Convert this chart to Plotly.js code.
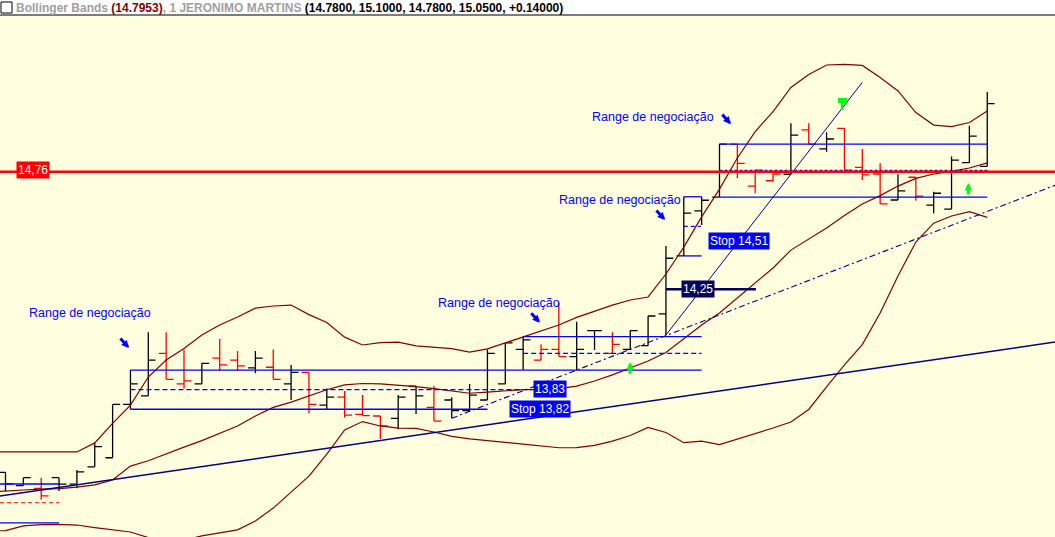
<!DOCTYPE html>
<html><head><meta charset="utf-8">
<script src="https://cdn.plot.ly/plotly-3.0.1.min.js"></script>
<style>html,body{margin:0;padding:0;background:#fff;overflow:hidden}#chart{width:1055px;height:537px}</style>
</head><body><div id="chart"></div>
<script>
// ---- data (prices) ----
const barOpen  = [13.461,13.404,13.392,13.438,13.410,13.485,13.524,13.754,13.791,13.974,13.842,13.842,13.953,13.945,13.911,13.914,13.842,13.892,13.751,13.785,13.711,13.704,13.694,13.833,13.741,13.773,13.727,13.773,13.842,13.991,13.945,13.991,13.960,14.072,13.974,13.991,14.007,14.144,14.394,14.588,14.647,14.876,14.695,14.718,14.746,14.937,14.855,14.944,14.776,14.747,14.635,14.733,14.613,14.596,14.796,14.780];
const barHigh  = [13.461,13.438,13.438,13.438,13.471,13.586,13.754,13.902,14.065,14.065,13.991,13.931,14.036,13.984,13.984,13.991,13.924,13.892,13.823,13.812,13.795,13.704,13.795,13.833,13.833,13.785,13.842,13.991,14.020,14.046,14.013,14.192,14.110,14.072,14.065,14.072,14.135,14.437,14.649,14.649,14.876,14.876,14.764,14.750,14.966,14.966,14.927,14.944,14.855,14.793,14.746,14.733,14.671,14.822,14.955,15.100];
const barLow   = [13.381,13.404,13.343,13.381,13.392,13.485,13.524,13.733,13.791,13.862,13.823,13.842,13.898,13.898,13.888,13.862,13.773,13.716,13.733,13.697,13.705,13.605,13.647,13.713,13.682,13.694,13.727,13.773,13.842,13.902,13.945,13.960,13.902,13.988,13.974,13.991,14.007,14.053,14.394,14.527,14.647,14.729,14.664,14.714,14.746,14.876,14.843,14.764,14.721,14.618,14.635,14.632,14.578,14.596,14.796,14.780];
const barClose = [13.411,13.438,13.360,13.410,13.463,13.572,13.754,13.842,13.945,13.862,13.855,13.931,13.924,13.920,13.953,13.862,13.892,13.754,13.785,13.708,13.706,13.661,13.785,13.791,13.682,13.727,13.794,13.974,14.019,14.032,13.991,13.960,13.991,14.072,14.013,14.072,14.135,14.384,14.578,14.634,14.876,14.793,14.764,14.747,14.915,14.876,14.898,14.764,14.743,14.618,14.674,14.652,14.664,14.807,14.910,15.050];

// Bollinger bands, first value belongs to the bar just before the visible window
const bandUpper  = [13.549,13.549,13.549,13.551,13.549,13.549,13.588,13.672,13.751,13.872,13.945,13.995,14.053,14.096,14.131,14.169,14.178,14.182,14.141,14.107,14.044,14.010,14.020,14.022,14.006,13.999,13.994,13.979,13.993,14.019,14.044,14.072,14.096,14.129,14.157,14.182,14.204,14.217,14.316,14.432,14.562,14.682,14.816,14.930,15.016,15.120,15.176,15.217,15.220,15.215,15.163,15.105,15.012,14.958,14.951,14.969,15.019];
const bandMiddle = [13.376,13.379,13.385,13.389,13.391,13.397,13.407,13.428,13.488,13.511,13.542,13.570,13.598,13.631,13.661,13.704,13.741,13.764,13.790,13.817,13.838,13.844,13.842,13.838,13.831,13.822,13.812,13.802,13.807,13.812,13.818,13.818,13.822,13.833,13.855,13.881,13.911,13.941,13.978,14.036,14.096,14.148,14.213,14.277,14.342,14.419,14.467,14.514,14.568,14.618,14.654,14.695,14.728,14.747,14.758,14.773,14.7953];
const bandLower  = [13.208,13.210,13.230,13.236,13.237,13.234,13.223,13.213,13.204,13.180,13.165,13.169,13.187,13.200,13.213,13.251,13.307,13.376,13.445,13.540,13.644,13.680,13.661,13.652,13.651,13.635,13.616,13.605,13.596,13.590,13.583,13.575,13.567,13.568,13.577,13.596,13.620,13.655,13.633,13.589,13.596,13.581,13.605,13.626,13.652,13.678,13.732,13.829,13.924,14.012,14.148,14.307,14.454,14.535,14.566,14.585,14.560];

const resistanceLevel = 14.757;     // red horizontal line
const resistanceLabel = '14,76';
const stopLevelLabel  = '14,25';
const stopLevel       = 14.25;
const earlyRangeHigh  = 13.411;     // range box started before the window
const earlyRangeLow   = 13.243;
const earlyRangeMid   = 13.330;
const longTrendX = [-0.31, 58.8];
const longTrendY = [13.359, 14.023];
const headerName = '1 JERONIMO MARTINS';

// ---- build ----
const N = barClose.length;
const barIdx = [];
for (let i = 0; i < N; i++) barIdx.push(i);
const bandIdx = [];
for (let i = -1; i < N; i++) bandIdx.push(i);

function subset(upFlag) {
  const t = {x:[],open:[],high:[],low:[],close:[]};
  for (let i = 0; i < N; i++) {
    const down = i > 0 && barClose[i] < barClose[i-1];
    if (down !== upFlag) {
      t.x.push(barIdx[i]); t.open.push(barOpen[i]); t.high.push(barHigh[i]);
      t.low.push(barLow[i]); t.close.push(barClose[i]);
    }
  }
  return t;
}
function ohlcTrace(s, color) {
  return {type:'ohlc', x:s.x, open:s.open, high:s.high, low:s.low, close:s.close,
    tickwidth:0.41, hoverinfo:'skip', showlegend:false,
    increasing:{line:{color:color,width:1.3}}, decreasing:{line:{color:color,width:1.3}}};
}
const upS = subset(true), dnS = subset(false);

function band(y) {
  return {type:'scatter', mode:'lines', x:bandIdx, y:y, hoverinfo:'skip', showlegend:false,
    line:{color:'#800000', width:1.2}};
}

const traces = [band(bandUpper), band(bandMiddle), band(bandLower),
  ohlcTrace(upS, '#000000'), ohlcTrace(dnS, '#FF0000')];

const BLUE = '#0000FF', NAVY = '#000080';
const shapes = [];
function hline(x0, x1, y, color, width, dash) {
  shapes.push({type:'line', xref:'x', yref:'y', x0:x0, x1:x1, y0:y, y1:y,
    line:{color:color, width:width, dash:dash || 'solid'}});
}
function seg(x0, y0, x1, y1, color, width, dash) {
  shapes.push({type:'line', xref:'x', yref:'y', x0:x0, x1:x1, y0:y0, y1:y1,
    line:{color:color, width:width, dash:dash || 'solid'}});
}
const XL = -0.31, XR = 58.8;

// early range box (left)
hline(XL, 3, earlyRangeHigh, BLUE, 1.4);
hline(XL, 3, earlyRangeLow, BLUE, 1.3);
hline(XL, 3, earlyRangeMid, '#FF0000', 1.2, '4px,3px');
// range box from bar 7
hline(7, 29, barHigh[7], BLUE, 1.3);
hline(7, 27, barLow[7], BLUE, 1.3);
hline(7, 29.5, (barHigh[7]+barLow[7])/2, BLUE, 1.2, '5px,3px');
// range box from bar 29
hline(29, 39, barHigh[29], BLUE, 1.3);
hline(29, 39, barLow[29], BLUE, 1.3);
hline(29, 39, (barHigh[29]+barLow[29])/2, BLUE, 1.2, '5px,3px');
// range box from bar 38
hline(38, 39, barHigh[38], BLUE, 1.3);
hline(38, 39, barLow[38], BLUE, 1.3);
hline(38, 38.95, (barHigh[38]+barLow[38])/2, BLUE, 1.2, '4px,3px');
// range box from bar 40
hline(40, 55, barHigh[40], BLUE, 1.3);
hline(40, 55, barLow[40], BLUE, 1.3);
hline(40, 55, (barHigh[40]+barLow[40])/2, BLUE, 2, '3px,2px');

// trend lines
seg(longTrendX[0], longTrendY[0], longTrendX[1], longTrendY[1], NAVY, 1.5);
const s1 = (barLow[32]-barLow[25])/7;
seg(25, barLow[25], XR, barLow[25] + s1*(XR-25), NAVY, 1.1, '6px,3px,2px,3px');
const s2 = (barLow[44]-barLow[37])/7;
seg(37, barLow[37], 48, barLow[37] + s2*11, NAVY, 1);
// stop line 14,25
hline(37, 42.04, stopLevel, '#000060', 2.5);
// resistance
shapes.push({type:'line', xref:'paper', yref:'y', x0:0, x1:1, y0:resistanceLevel, y1:resistanceLevel,
  line:{color:'#FF0000', width:2.6}});
// green flag marker (signal on bar 47)
shapes.push({type:'rect', xref:'x', yref:'y', x0:46.64, x1:47.14, y0:15.053, y1:15.075,
  fillcolor:'#00FF00', line:{width:0}});
shapes.push({type:'line', xref:'x', yref:'y', x0:46.86, x1:46.86, y0:15.023, y1:15.053,
  line:{color:'#00FF00', width:2.2}});
// header
shapes.push({type:'rect', xref:'paper', yref:'paper', x0:1/1055, x1:12/1055, y0:1+3/521, y1:1+14/521,
  fillcolor:'#FFFFFF', line:{color:'#000000', width:1}});
shapes.push({type:'line', xref:'paper', yref:'paper', x0:0, x1:1, y0:1+1/521, y1:1+1/521,
  line:{color:'#505050', width:1.5}});

const FONT = 'Liberation Sans, Arial, sans-serif';
const ann = [];
function rangeText(x, y) {
  ann.push({x:x, y:y, xref:'x', yref:'y', text:'Range de negociação', showarrow:false,
    xanchor:'left', yanchor:'middle', font:{family:FONT, size:12.5, color:BLUE}});
}
rangeText(1.20, 14.150);
rangeText(24.12, 14.193);
rangeText(30.90, 14.637);
rangeText(32.77, 14.994);
function blueArrow(x, y) {
  ann.push({x:x, y:y, xref:'x', yref:'y', text:'', showarrow:true, arrowhead:2, arrowsize:0.5,
    arrowwidth:3, arrowcolor:BLUE, ax:-10, ay:-11, standoff:0});
}
blueArrow(6.92, 13.997);
blueArrow(29.94, 14.106);
blueArrow(36.95, 14.549);
blueArrow(40.64, 14.962);
function greenArrow(x, y) {
  ann.push({x:x, y:y, xref:'x', yref:'y', text:'', showarrow:true, arrowhead:2, arrowsize:0.5,
    arrowwidth:3, arrowcolor:'#00FF00', ax:0, ay:13, standoff:0});
}
greenArrow(34.99, 13.936);
greenArrow(53.94, 14.708);
function boxLabel(x, y, text, bg, yshift) {
  ann.push({x:x, y:y, xref:'x', yref:'y', text:text, showarrow:false, bgcolor:bg, borderpad:1,
    xanchor:'center', yanchor:'middle', yshift:yshift||0, font:{family:FONT, size:12, color:'#FFFFFF'}});
}
boxLabel(1.54, resistanceLevel, resistanceLabel, '#FF0000', 2);
boxLabel(30.5, 13.820, '13,83', BLUE);
boxLabel(29.94, 13.732, 'Stop 13,82', BLUE);
boxLabel(41.09, 14.458, 'Stop 14,51', BLUE);
boxLabel(38.8, stopLevel, stopLevelLabel, '#000060');

// header text built from the last bar
const last = N-1;
const chg = barClose[last]-barClose[last-1];
const hdr = '<b><span style="color:#A0A0A0">Bollinger Bands </span>' +
  '<span style="color:#800000">(' + bandMiddle[bandMiddle.length-1].toFixed(4) + ')</span>' +
  '<span style="color:#A0A0A0">, ' + headerName + ' </span>' +
  '<span style="color:#000000">(' + barOpen[last].toFixed(4) + ', ' + barHigh[last].toFixed(4) + ', ' +
  barLow[last].toFixed(4) + ', ' + barClose[last].toFixed(4) + ', ' + (chg>=0?'+':'') + chg.toFixed(5) + ')</span></b>';
ann.push({xref:'paper', yref:'paper', x:14/1055, y:1+8.5/521, xanchor:'left', yanchor:'middle',
  text:hdr, showarrow:false, font:{family:FONT, size:12}});

const layout = {
  width:1055, height:537, margin:{l:0, r:0, t:16, b:0, pad:0},
  paper_bgcolor:'#FFFFFF', plot_bgcolor:'#FFFFE0', showlegend:false, dragmode:false,
  xaxis:{range:[-0.308, 58.796], visible:false, fixedrange:true, rangeslider:{visible:false}},
  yaxis:{range:[13.1824, 15.4281], visible:false, fixedrange:true},
  shapes:shapes, annotations:ann
};
Plotly.newPlot('chart', traces, layout, {staticPlot:true, displayModeBar:false});
</script></body></html>
